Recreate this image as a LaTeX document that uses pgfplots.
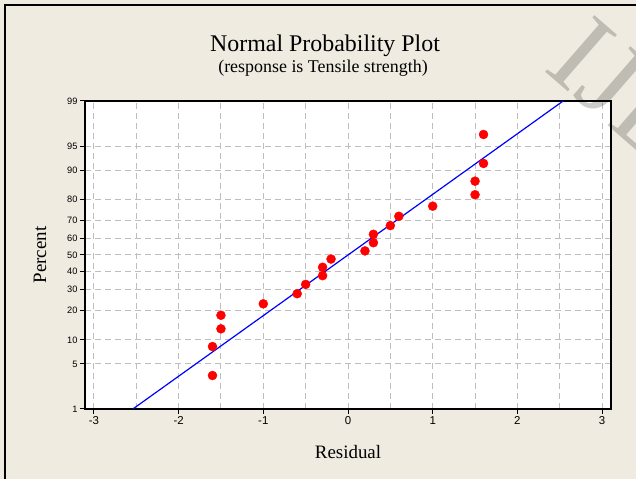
\documentclass[border=0pt]{standalone}
\usepackage{pgfplots}
\pgfplotsset{compat=1.18}
\usepackage{fontspec}
\setmainfont{Liberation Serif}
\newfontfamily\arialf{Liberation Sans}
\definecolor{bg}{RGB}{239,235,225}
\definecolor{gridc}{RGB}{190,190,190}
\pgfplotstableread{
x z
-1.6 -1.8206
-1.6 -1.3830
-1.5 -1.1152
-1.5 -0.9104
-1.0 -0.7375
-0.6 -0.5845
-0.5 -0.4442
-0.3 -0.3124
-0.3 -0.1853
-0.2 -0.0615
0.2 0.0615
0.3 0.1853
0.3 0.3124
0.5 0.4442
0.6 0.5845
1.0 0.7375
1.5 0.9104
1.5 1.1152
1.6 1.3830
1.6 1.8206
}\resid
\begin{document}
\begin{tikzpicture}[x=1bp,y=1bp]
\path[use as bounding box, fill=bg] (0,0) rectangle (636,479);
\draw[line width=1.5bp] (5,-10) -- (5,474) -- (660,474);
\node[anchor=base, font=\fontsize{24}{26}\selectfont] at (325,427.3) {Normal Probability Plot};
\node[anchor=base, font=\fontsize{18}{20}\selectfont] at (323,406.7) {(response is Tensile strength)};
\begin{axis}[
  at={(85bp,70bp)}, anchor=south west,
  width=526bp, height=308bp, scale only axis,
  xmin=-3.105, xmax=3.105, ymin=-2.3263, ymax=2.3263,
  axis background/.style={fill=white},
  axis line style={line width=1.6bp, black},
  xtick={-3,...,3},
  xticklabels={-3,-2,-1,0,1,2,3},
  minor xtick={-2.5,-1.5,-0.5,0.5,1.5,2.5},
  ytick={-2.3263,-1.6449,-1.2816,-0.8416,-0.5244,-0.2533,0,0.2533,0.5244,0.8416,1.2816,1.6449,2.3263},
  yticklabels={1,5,10,20,30,40,50,60,70,80,90,95,99},
  xmajorgrids, xminorgrids, ymajorgrids,
  major grid style={gridc, line width=1bp, dash pattern=on 6bp off 4bp},
  minor grid style={gridc, line width=1bp, dash pattern=on 6bp off 4bp},
  tick align=outside, major tick length=5bp, minor tick length=0bp,
  tick style={black, line width=1bp},
  xtick pos=bottom, ytick pos=left,
  x tick label style={font=\arialf\fontsize{11.5}{12}\selectfont, yshift=1bp},
  y tick label style={font=\arialf\fontsize{9.3}{10}\selectfont, xshift=1bp},
  xlabel={Residual},
  ylabel={Percent},
  xlabel style={font=\fontsize{19}{20}\selectfont, at={(axis description cs:0.5,0)}, anchor=center, yshift=-43bp},
  ylabel style={font=\fontsize{19}{20}\selectfont, at={(axis description cs:0,0.5)}, anchor=center, yshift=45bp},
  clip=true,
]
\addplot[blue, line width=1.2bp] coordinates {(-2.54,-2.3263) (2.54,2.3263)};
\addplot[only marks, mark=*, mark size=4.5bp, red, mark options={fill=red, draw=red}] table[x=x,y=z] {\resid};
\end{axis}
\node[anchor=base west, rotate=-41, text=black, text opacity=0.2, font=\fontsize{115}{115}\selectfont] at (540,412) {IJE};
\end{tikzpicture}
\end{document}
